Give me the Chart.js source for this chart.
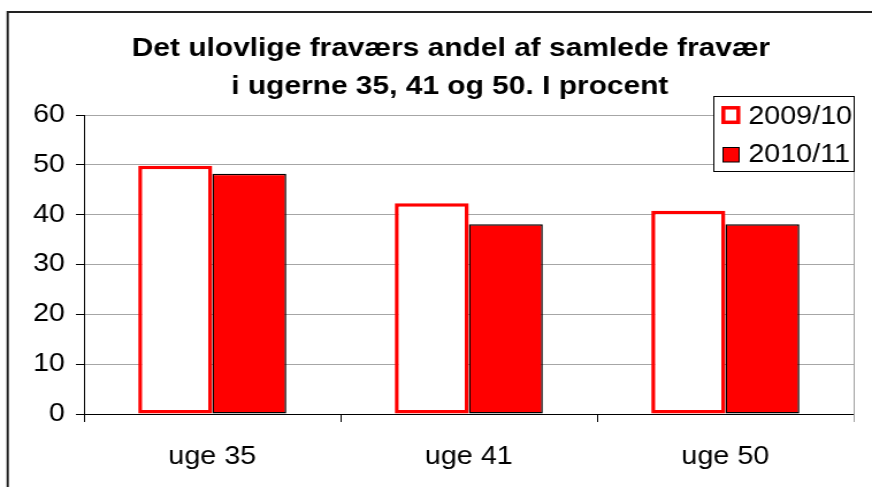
<!DOCTYPE html>
<html>
<head>
<meta charset="utf-8">
<script src="https://cdn.jsdelivr.net/npm/chart.js@4"></script>
<style>
  body { margin: 0; background: #fff; }
</style>
</head>
<body>
<!-- the reference is stretched a bit sideways, so the canvas is drawn narrow and widened -->
<canvas id="chart" width="758" height="487" style="width:872px;height:487px;display:block"></canvas>
<script>
// ---- data ----
const categories = ['uge 35', 'uge 41', 'uge 50'];
const series2009 = [49.8, 42.3, 40.8];
const series2010 = [48.2, 38.1, 38.1];
const seriesNames = ['2009/10', '2010/11'];
const titleLines = ['Det ulovlige fraværs andel af samlede fravær', 'i ugerne 35, 41 og 50. I procent'];
const yTicks = [0, 10, 20, 30, 40, 50, 60];

const FONT = '"Liberation Sans", Arial, sans-serif';
const RED = '#ff0000';

// title, legend, frame and plot border
const decor = {
  id: 'decor',
  afterDraw(chart) {
    const ctx = chart.ctx;
    const area = chart.chartArea;
    ctx.save();

    // outer frame (only top and left show in the picture)
    ctx.strokeStyle = '#222';
    ctx.lineWidth = 2;
    ctx.beginPath();
    ctx.moveTo(6.7, 500);
    ctx.lineTo(6.7, 11.9);
    ctx.lineTo(800, 11.9);
    ctx.stroke();

    // right edge of plot area
    ctx.strokeStyle = '#a0a0a0';
    ctx.lineWidth = 1;
    ctx.beginPath();
    ctx.moveTo(area.right + 0.5, area.top);
    ctx.lineTo(area.right + 0.5, area.bottom + 8);
    ctx.stroke();

    // title
    ctx.fillStyle = '#000';
    ctx.font = 'bold 26px ' + FONT;
    ctx.textAlign = 'center';
    ctx.textBaseline = 'alphabetic';
    ctx.fillText(titleLines[0], 392, 56);
    ctx.fillText(titleLines[1], 391, 93.5);

    // legend
    const lx = 620.5, ly = 96.5, lw = 122, lh = 75;
    ctx.fillStyle = '#fff';
    ctx.fillRect(lx, ly, lw, lh);
    ctx.strokeStyle = '#000';
    ctx.lineWidth = 1;
    ctx.strokeRect(lx, ly, lw, lh);

    ctx.strokeStyle = RED;
    ctx.lineWidth = 3.5;
    ctx.strokeRect(628.8, 107.8, 13, 14.5);

    ctx.fillStyle = RED;
    ctx.fillRect(628.5, 147.5, 14, 14.5);
    ctx.strokeStyle = '#000';
    ctx.lineWidth = 1;
    ctx.strokeRect(628.5, 147.5, 14, 14.5);

    ctx.fillStyle = '#000';
    ctx.font = '25px ' + FONT;
    ctx.textAlign = 'left';
    ctx.fillText(seriesNames[0], 650.4, 124.3);
    ctx.fillText(seriesNames[1], 650.4, 162);

    ctx.restore();
  }
};

const chart = new Chart(document.getElementById('chart'), {
  type: 'bar',
  data: {
    labels: categories,
    datasets: [
      {
        label: seriesNames[0],
        data: series2009,
        backgroundColor: '#ffffff',
        borderColor: RED,
        borderWidth: 3.5,
        borderSkipped: false,
        categoryPercentage: 0.577,
        barPercentage: 1
      },
      {
        label: seriesNames[1],
        data: series2010,
        backgroundColor: RED,
        borderColor: '#000000',
        borderWidth: 1.5,
        borderSkipped: false,
        categoryPercentage: 0.577,
        barPercentage: 1
      }
    ]
  },
  options: {
    responsive: false,
    devicePixelRatio: 1,
    animation: false,
    layout: { padding: { top: 115, right: 16, left: 0, bottom: 0 } },
    plugins: {
      legend: { display: false },
      title: { display: false },
      tooltip: { enabled: false }
    },
    scales: {
      x: {
        grid: {
          drawOnChartArea: false,
          drawTicks: true,
          tickLength: 8,
          tickColor: '#000',
          offset: true
        },
        border: { color: '#000', width: 1 },
        ticks: {
          color: '#000',
          font: { family: FONT, size: 25 },
          padding: 20,
          maxRotation: 0
        },
        afterFit(scale) { scale.height = 73; }
      },
      y: {
        min: 0,
        max: 60,
        afterBuildTicks(scale) { scale.ticks = yTicks.map(v => ({ value: v })); },
        grid: {
          color: (c) => (c.tick && c.tick.value === 0 ? '#000' : '#a6a6a6'),
          tickColor: '#000',
          tickLength: 7,
          lineWidth: 1
        },
        border: { color: '#000', width: 1 },
        ticks: {
          color: '#000',
          font: { family: FONT, size: 25 },
          padding: 9.5
        },
        afterFit(scale) { scale.width = 73; }
      }
    }
  },
  plugins: [decor]
});
</script>
</body>
</html>
